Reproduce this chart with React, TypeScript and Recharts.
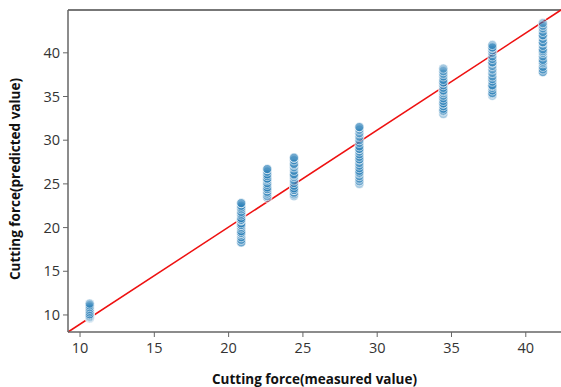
import React from "react";
import {
  ScatterChart,
  Scatter,
  XAxis,
  YAxis,
  ReferenceLine,
} from "recharts";

// measured cutting force for each group of predictions
const measured = [10.65, 20.85, 22.6, 24.4, 28.8, 34.45, 37.75, 41.15];

const predicted10 = [9.6, 9.7, 9.7, 9.8, 9.8, 9.9, 10.0, 10.1, 10.3, 10.5, 10.7, 10.9, 11.1, 11.3];
const predicted20 = [18.3, 18.3, 18.6, 18.9, 19.2, 19.4, 19.4, 19.6, 19.9, 20.1, 20.3, 20.3, 20.5, 20.8, 20.9, 20.9, 21.1, 21.4, 21.6, 21.8, 22.1, 22.3, 22.5, 22.8, 22.8];
const predicted22 = [23.4, 23.6, 23.9, 24.1, 24.4, 24.4, 24.6, 24.9, 25.1, 25.4, 25.6, 25.6, 25.9, 26.1, 26.4, 26.7, 26.7];
const predicted24 = [23.6, 23.8, 24.0, 24.3, 24.3, 24.5, 24.8, 25.1, 25.4, 25.8, 26.0, 26.1, 26.5, 26.9, 27.2, 27.3, 27.7, 28.0, 28.0];
const predicted28 = [25.0, 25.3, 25.6, 25.9, 26.2, 26.3, 26.5, 26.8, 27.1, 27.4, 27.8, 27.8, 28.1, 28.4, 28.7, 29.0, 29.0, 29.3, 29.7, 30.0, 30.4, 30.8, 31.2, 31.5, 31.5];
const predicted34 = [33.0, 33.3, 33.4, 33.6, 33.9, 34.2, 34.2, 34.5, 34.8, 35.1, 35.4, 35.6, 35.7, 36.0, 36.3, 36.6, 36.6, 36.9, 37.3, 37.6, 37.9, 38.2];
const predicted37 = [35.1, 35.3, 35.4, 35.7, 36.0, 36.2, 36.3, 36.7, 37.0, 37.3, 37.7, 38.1, 38.5, 38.9, 38.9, 39.3, 39.6, 40.0, 40.3, 40.6, 40.6, 40.9];
const predicted41 = [37.8, 37.8, 38.1, 38.4, 38.8, 39.0, 39.2, 39.6, 40.0, 40.2, 40.4, 40.8, 41.2, 41.2, 41.6, 42.0, 42.0, 42.4, 42.8, 43.1, 43.4];

const predictedGroups = [predicted10, predicted20, predicted22, predicted24, predicted28, predicted34, predicted37, predicted41];

const xTicks = [10, 15, 20, 25, 30, 35, 40];
const yTicks = [10, 15, 20, 25, 30, 35, 40];
const xDomain = [9.19, 42.37];
const yDomain = [8.05, 44.9];

// red reference line endpoints
const fitLine = [
  { x: 9.19, y: 8.05 },
  { x: 42.37, y: 44.9 },
];

const points = measured.flatMap((m, i) =>
  predictedGroups[i].map((p) => ({ x: m, y: p }))
);

const tickStyle = { fontFamily: "Open Sans", fontSize: 14.5, fill: "#333" };
const labelFont = "Open Sans";

const Dot = (props: any) => (
  <circle
    cx={props.cx}
    cy={props.cy}
    r={4.6}
    fill="#1f77b4"
    fillOpacity={0.4}
    stroke="#ffffff"
    strokeWidth={0.6}
  />
);

const XLabel = (props: any) => {
  const vb = props.viewBox;
  return (
    <text
      x={vb.x + vb.width / 2}
      y={384}
      textAnchor="middle"
      fontFamily={labelFont}
      fontWeight="bold"
      fontSize={14}
      fill="#111"
      textLength={205}
      lengthAdjust="spacingAndGlyphs"
    >
      Cutting force(measured value)
    </text>
  );
};

const YLabel = (props: any) => {
  const vb = props.viewBox;
  const cy = vb.y + vb.height / 2 + 8;
  return (
    <text
      x={20}
      y={cy}
      transform={`rotate(-90, 20, ${cy})`}
      textAnchor="middle"
      fontFamily={labelFont}
      fontWeight="bold"
      fontSize={14}
      fill="#111"
      textLength={202}
      lengthAdjust="spacingAndGlyphs"
    >
      Cutting force(predicted value)
    </text>
  );
};

export default function App() {
  return (
    <div style={{ position: "fixed", left: 0, top: 0, background: "#fff" }}>
      <ScatterChart
        width={561}
        height={387}
        margin={{ top: 10, right: 0, bottom: 25, left: 0 }}
      >
        <XAxis
          type="number"
          dataKey="x"
          domain={xDomain}
          ticks={xTicks}
          allowDataOverflow
          tick={tickStyle}
          tickSize={5}
          tickMargin={6}
          axisLine={{ stroke: "#666", strokeWidth: 1.5 }}
          tickLine={{ stroke: "#666" }}
          label={<XLabel />}
        />
        <YAxis
          type="number"
          dataKey="y"
          domain={yDomain}
          ticks={yTicks}
          allowDataOverflow
          width={68}
          tick={tickStyle}
          tickSize={5}
          tickMargin={3}
          axisLine={{ stroke: "#666", strokeWidth: 1.5 }}
          tickLine={{ stroke: "#666" }}
          label={<YLabel />}
        />
        <ReferenceLine y={yDomain[1]} stroke="#777" strokeWidth={2} />
        <Scatter data={points} shape={<Dot />} isAnimationActive={false} />
        <ReferenceLine
          segment={fitLine}
          stroke="#ee1111"
          strokeWidth={1.5}
          ifOverflow="visible"
        />
      </ScatterChart>
    </div>
  );
}
